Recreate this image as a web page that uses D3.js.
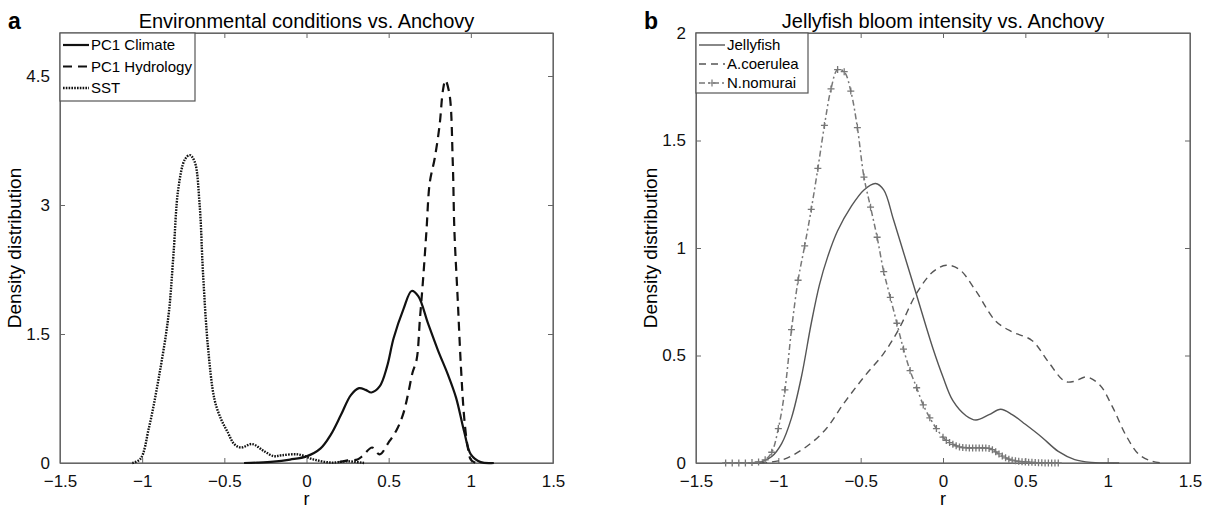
<!DOCTYPE html>
<html>
<head>
<meta charset="utf-8">
<script src="https://cdn.jsdelivr.net/npm/d3@7"></script>
<style>
  body { margin: 0; background: #fff; }
  svg, svg text { font-family: "Liberation Sans", Arial, sans-serif; }
  .tick text { font-size: 17px; fill: #111; font-family: "Liberation Sans", Arial, sans-serif; }
</style>
</head>
<body>
<svg width="1215" height="510"></svg>
<script>
// ---- panel a data ----
var climateR = [-0.38,-0.3,-0.2,-0.1,0,0.086,0.148,0.21,0.27,0.32,0.36,0.395,0.445,0.49,0.53,0.59,0.64,0.68,0.74,0.80,0.86,0.91,0.96,1.0,1.06,1.14];
var climateV = [0,0.004,0.015,0.04,0.077,0.17,0.33,0.56,0.79,0.87,0.85,0.82,0.89,1.12,1.45,1.79,2.0,1.94,1.62,1.31,1.03,0.76,0.36,0.1,0.01,0];

var hydroR = [0.2,0.25,0.31,0.34,0.4,0.445,0.5,0.55,0.59,0.62,0.645,0.67,0.69,0.71,0.73,0.75,0.78,0.81,0.83,0.845,0.87,0.89,0.9,0.92,0.94,0.96,0.98,1.0,1.03];
var hydroV = [0.01,0.03,0.04,0.08,0.18,0.1,0.24,0.39,0.58,0.82,1.05,1.2,1.67,2.15,2.7,3.26,3.54,3.93,4.33,4.45,4.29,3.5,2.7,1.91,1.11,0.52,0.2,0.04,0];

var sstR = [-1.06,-1.01,-0.96,-0.9,-0.84,-0.81,-0.78,-0.74,-0.71,-0.68,-0.65,-0.63,-0.6,-0.56,-0.52,-0.48,-0.44,-0.4,-0.33,-0.26,-0.2,-0.15,-0.05,0.045,0.15,0.25,0.35];
var sstV = [0,0.05,0.4,0.98,1.71,2.41,3.19,3.53,3.58,3.5,2.99,2.22,1.36,0.74,0.51,0.36,0.22,0.18,0.22,0.14,0.08,0.09,0.1,0.04,0.005,0.02,0];

// ---- panel b data ----
var jellyR = [-1.12,-1.04,-0.98,-0.92,-0.86,-0.8,-0.75,-0.7,-0.64,-0.56,-0.48,-0.41,-0.36,-0.3,-0.22,-0.16,-0.06,0,0.06,0.14,0.2,0.28,0.35,0.42,0.5,0.6,0.7,0.8,0.9,1.07];
var jellyV = [0,0.03,0.09,0.21,0.4,0.65,0.83,0.96,1.08,1.19,1.27,1.30,1.27,1.13,0.93,0.78,0.53,0.40,0.29,0.22,0.20,0.225,0.25,0.225,0.18,0.12,0.054,0.016,0.003,0];

var aurR = [-1.33,-1.0,-0.86,-0.72,-0.6,-0.48,-0.36,-0.27,-0.16,-0.06,0.02,0.1,0.2,0.32,0.42,0.54,0.64,0.74,0.8,0.87,0.95,1.03,1.11,1.19,1.27,1.33];
var aurV = [0,0.01,0.06,0.15,0.28,0.40,0.51,0.62,0.79,0.89,0.92,0.9,0.8,0.66,0.61,0.57,0.47,0.38,0.38,0.40,0.365,0.26,0.13,0.04,0.008,0];

var nomR = [-1.32,-1.28,-1.24,-1.2,-1.16,-1.12,-1.08,-1.04,-1.0,-0.96,-0.92,-0.88,-0.84,-0.8,-0.76,-0.72,-0.68,-0.64,-0.6,-0.56,-0.52,-0.48,-0.44,-0.4,-0.36,-0.32,-0.28,-0.24,-0.2,-0.16,-0.12,-0.08,-0.04,0,0.02,0.04,0.06,0.08,0.1,0.12,0.14,0.16,0.18,0.2,0.22,0.24,0.26,0.28,0.3,0.32,0.34,0.36,0.38,0.4,0.42,0.44,0.46,0.48,0.5,0.52,0.54,0.56,0.58,0.6,0.62,0.64,0.66,0.68,0.7];
var nomV = [0,0,0,0,0.002,0.005,0.015,0.05,0.16,0.34,0.62,0.85,1.01,1.18,1.37,1.57,1.74,1.83,1.82,1.73,1.56,1.33,1.19,1.05,0.89,0.77,0.65,0.53,0.43,0.35,0.27,0.21,0.16,0.12,0.105,0.095,0.087,0.08,0.075,0.072,0.071,0.07,0.07,0.07,0.07,0.07,0.07,0.068,0.062,0.052,0.042,0.032,0.024,0.018,0.013,0.01,0.008,0.006,0.005,0.004,0.003,0.002,0.0015,0.001,0.0005,0,0,0,0];

var xTicks = [-1.5,-1,-0.5,0,0.5,1,1.5];
var yTicksA = [0,1.5,3,4.5];
var yTicksB = [0,0.5,1,1.5,2];

var svg = d3.select("svg");

function zip(r, v) { return r.map(function(d, i) { return [d, v[i]]; }); }

function panel(opt) {
  var x = d3.scaleLinear().domain([-1.5, 1.5]).range([opt.left, opt.right]);
  var y = d3.scaleLinear().domain([0, opt.ymax]).range([opt.bottom, opt.top]);
  var g = svg.append("g");

  g.append("rect")
    .attr("x", opt.left).attr("y", opt.top)
    .attr("width", opt.right - opt.left).attr("height", opt.bottom - opt.top)
    .attr("fill", "none").attr("stroke", "#666").attr("stroke-width", 1.2);

  var fmt = function(d) { return d3.format("")(d); };
  g.append("g").attr("transform", "translate(0," + opt.bottom + ")")
    .call(d3.axisBottom(x).tickValues(xTicks).tickSizeInner(-5).tickSizeOuter(0).tickPadding(12).tickFormat(fmt));
  g.append("g").attr("transform", "translate(0," + opt.top + ")")
    .call(d3.axisTop(x).tickValues(xTicks).tickSizeInner(-5).tickSizeOuter(0).tickFormat(""));
  g.append("g").attr("transform", "translate(" + opt.left + ",0)")
    .call(d3.axisLeft(y).tickValues(opt.yTicks).tickSizeInner(-5).tickSizeOuter(0).tickPadding(10).tickFormat(fmt));
  g.append("g").attr("transform", "translate(" + opt.right + ",0)")
    .call(d3.axisRight(y).tickValues(opt.yTicks).tickSizeInner(-5).tickSizeOuter(0).tickFormat(""));
  g.selectAll(".domain").attr("stroke", "#666");
  g.selectAll(".tick line").attr("stroke", "#666");

  // labels
  g.append("text").attr("x", (opt.left + opt.right) / 2).attr("y", 28)
    .attr("text-anchor", "middle").attr("font-size", 20).text(opt.title);
  g.append("text").attr("x", opt.left - 52).attr("y", 29)
    .attr("font-size", 23).attr("font-weight", "bold").text(opt.letter);
  g.append("text").attr("x", (opt.left + opt.right) / 2).attr("y", 505)
    .attr("text-anchor", "middle").attr("font-size", 18).text("r");
  g.append("text")
    .attr("transform", "translate(" + (opt.left - 39) + "," + ((opt.top + opt.bottom) / 2) + ") rotate(-90)")
    .attr("text-anchor", "middle").attr("font-size", 19).text("Density distribution");

  var line = d3.line()
    .x(function(d) { return x(d[0]); })
    .y(function(d) { return y(d[1]); })
    .curve(d3.curveCatmullRom.alpha(0.5));

  opt.series.forEach(function(s) {
    g.append("path").datum(zip(s.r, s.v))
      .attr("d", line).attr("fill", "none")
      .attr("stroke", s.color).attr("stroke-width", s.width)
      .attr("stroke-dasharray", s.dash);
    if (s.marker) {
      g.append("g").selectAll("path").data(zip(s.r, s.v)).enter().append("path")
        .attr("d", "M-3.5,0H3.5M0,-3.5V3.5")
        .attr("transform", function(d) { return "translate(" + x(d[0]) + "," + y(d[1]) + ")"; })
        .attr("stroke", s.color).attr("stroke-width", 1.3);
    }
  });

  // legend
  var lg = g.append("g").attr("transform", "translate(" + opt.left + "," + opt.top + ")");
  lg.append("rect").attr("width", opt.legW).attr("height", opt.legH)
    .attr("fill", "#fff").attr("stroke", "#555").attr("stroke-width", 1.2);
  opt.series.forEach(function(s, i) {
    var yy = 12 + i * opt.legStep;
    lg.append("line").attr("x1", 3).attr("x2", 29).attr("y1", yy).attr("y2", yy)
      .attr("stroke", s.color).attr("stroke-width", s.width).attr("stroke-dasharray", s.dash);
    if (s.marker) {
      lg.append("path").attr("d", "M12.5," + yy + "h7M16," + (yy - 3.5) + "v7")
        .attr("stroke", s.color).attr("stroke-width", 1.2);
    }
    lg.append("text").attr("x", 31).attr("y", yy + 5).attr("font-size", 15).text(s.name);
  });
}

panel({
  left: 60, right: 553, top: 33, bottom: 463, ymax: 5, yTicks: yTicksA,
  title: "Environmental  conditions vs. Anchovy", letter: "a",
  legW: 135, legH: 68, legStep: 21.5,
  series: [
    { name: "PC1 Climate", r: climateR, v: climateV, color: "#111", width: 2.2, dash: null },
    { name: "PC1 Hydrology", r: hydroR, v: hydroV, color: "#111", width: 2.2, dash: "9,6" },
    { name: "SST", r: sstR, v: sstV, color: "#111", width: 2.4, dash: "1.6,1.2" }
  ]
});

panel({
  left: 696, right: 1190, top: 33, bottom: 463, ymax: 2, yTicks: yTicksB,
  title: "Jellyfish bloom intensity vs. Anchovy", letter: "b",
  legW: 112, legH: 60, legStep: 19,
  series: [
    { name: "Jellyfish", r: jellyR, v: jellyV, color: "#555", width: 1.4, dash: null },
    { name: "A.coerulea", r: aurR, v: aurV, color: "#555", width: 1.4, dash: "7,5" },
    { name: "N.nomurai", r: nomR, v: nomV, color: "#777", width: 1.5, dash: "6,3,2,3", marker: true }
  ]
});
</script>
</body>
</html>
